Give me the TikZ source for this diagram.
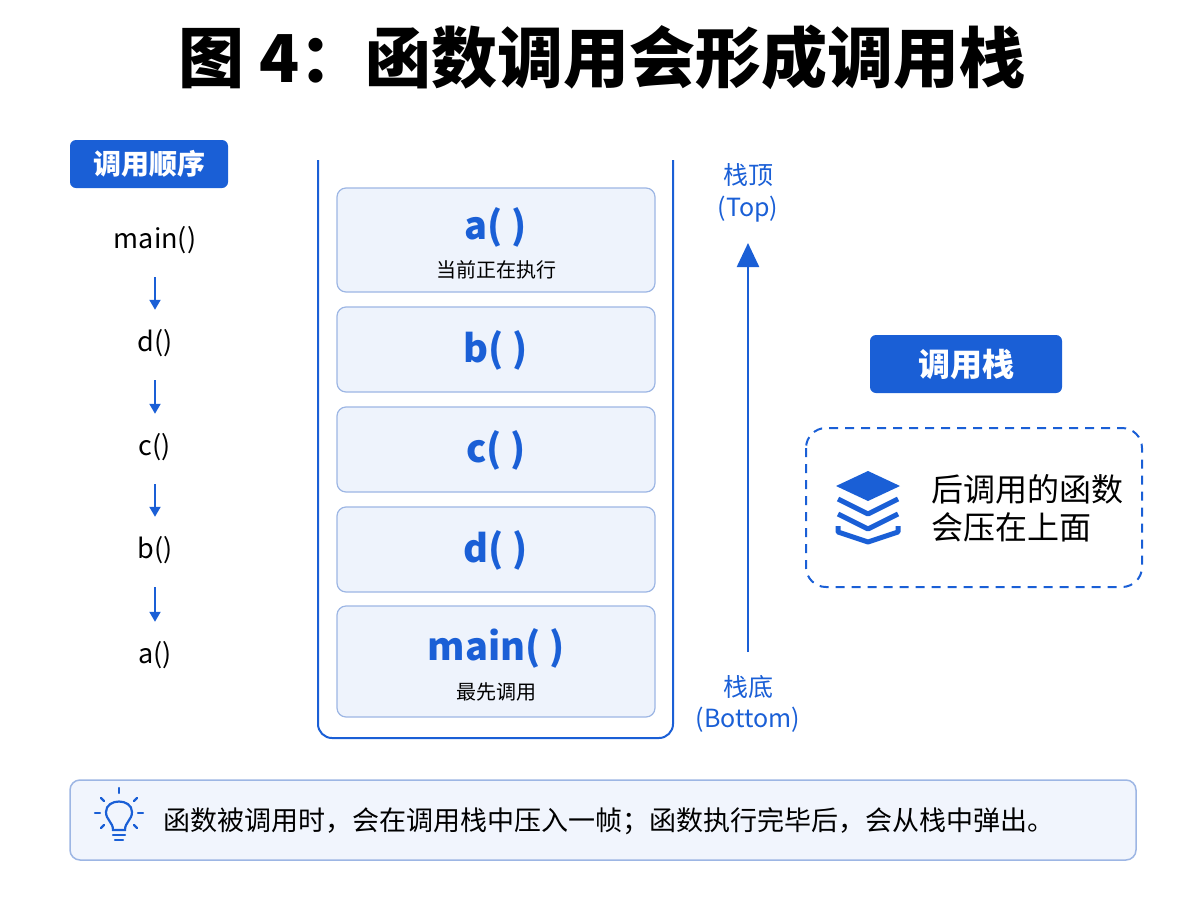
\documentclass[tikz,border=0pt]{standalone}
\usepackage{fontspec}
\setmainfont{Noto Sans CJK SC}
\usetikzlibrary{arrows.meta}
\definecolor{blu}{HTML}{1A5FD6}
\definecolor{frm}{HTML}{EEF3FC}
\definecolor{frs}{HTML}{9DB6E4}
\definecolor{tip}{HTML}{F1F5FD}
\begin{document}
\begin{tikzpicture}[x=1pt,y=-1pt,
  fs/.style={font=\fontsize{#1}{#1}\selectfont},
  fsb/.style={font=\fontsize{#1}{#1}\selectfont\bfseries},
  badge/.style={fill=blu,rounded corners=6,text=white,font=\fontsize{28}{28}\selectfont\bfseries,inner sep=0},
  frame/.style={draw=frs,fill=frm,line width=1.2,rounded corners=9},
  lst/.style={font=\fontsize{27}{27}\selectfont},
  darr/.style={blu,line width=2,-{Triangle[length=10,width=11]}}]
\useasboundingbox (0,0) rectangle (1200,900);
\node[fsb=66] (title) at (602,57) {图 4：函数调用会形成调用栈};
% left
\node[badge,minimum width=158,minimum height=48] (b1) at (149,164) {调用顺序};
\node[lst] (l1) at (155,240) {main()};
\node[lst] (l2) at (155,343) {d()};
\node[lst] (l3) at (155,447) {c()};
\node[lst] (l4) at (155,550) {b()};
\node[lst] (l5) at (155,655) {a()};
\foreach \a/\b in {l1/l2,l2/l3,l3/l4,l4/l5}
  \draw[darr] ([yshift=-20]\a.south) -- ([yshift=16]\b.north);
% stack
\coordinate (cl) at (318,160); \coordinate (cr) at (673,160);
\draw[blu,line width=2,rounded corners=14] (cl) -- (318,738) -- (673,738) -- (cr);
\node[frame,minimum width=318,minimum height=104] (fa) at (496,240) {};
\node[frame,minimum width=318,minimum height=85] (fb) at (496,349.5) {};
\node[frame,minimum width=318,minimum height=85] (fc) at (496,449.5) {};
\node[frame,minimum width=318,minimum height=85] (fd) at (496,549.5) {};
\node[frame,minimum width=318,minimum height=111] (fm) at (496,661.5) {};
\node[text=blu,fsb=38] (ta) at (496,227) {a( )};
\node[fs=20] (sa) at (496,270) {当前正在执行};
\node[text=blu,fsb=38] (tb) at (496,350) {b( )};
\node[text=blu,fsb=38] (tc) at (496,450) {c( )};
\node[text=blu,fsb=38] (td) at (496,550) {d( )};
\node[text=blu,fsb=38] (tm) at (496,648) {main( )};
\node[fs=20] (sm) at (496,692) {最先调用};
% arrow
\node[text=blu,fs=25] (top1) at (748,175) {栈顶};
\node[text=blu,fs=25] (top2) at (748,209) {(Top)};
\node[text=blu,fs=25] (bot1) at (748,687) {栈底};
\node[text=blu,fs=25] (bot2) at (748,720) {(Bottom)};
\coordinate (ab) at (748,652); \coordinate (at) at (748,243);
\draw[blu,line width=2.5,-{Triangle[length=24,width=22]}] (ab) -- (at);
% right
\node[badge,minimum width=192,minimum height=58,font=\fontsize{32}{32}\selectfont\bfseries] (b2) at (966,364) {调用栈};
\draw[blu,line width=2,dash pattern=on 9 off 7,rounded corners=20] (806,428) rectangle (1142,587);
\begin{scope}[shift={(868,506)}]
 \fill[blu] (0,-35) -- (32,-20) -- (0,-5) -- (-32,-20) -- cycle;
 \draw[blu,line width=5,line join=round] (-30,-7) -- (0,8) -- (30,-7);
 \draw[blu,line width=5,line join=round] (-30,8) -- (0,23) -- (30,8);
 \draw[blu,line width=5,line join=round] (-30,20) -- (-30,26) -- (0,36) -- (30,26) -- (30,20);
\end{scope}
\node[fs=32,align=left] (rt) at (1027,508) {后调用的函数\\[6pt]会压在上面};
% tip
\draw[frs,fill=tip,line width=1.5,rounded corners=10] (70,780) rectangle (1136,860);
\begin{scope}[shift={(119,818)},blu,line width=2.2,line cap=round]
 \draw (-6,12) .. controls (-6,4) and (-13,2) .. (-13,-6) .. controls (-13,-20) and (13,-20) .. (13,-6) .. controls (13,2) and (6,4) .. (6,12) -- cycle;
 \draw (-6,17) -- (6,17); \draw (-4,22) -- (4,22);
 \draw (0,-30) -- (0,-25); \draw (-18,-20) -- (-15,-17); \draw (18,-20) -- (15,-17);
 \draw (-24,-5) -- (-19,-5); \draw (24,-5) -- (19,-5);
 \draw (-18,10) -- (-15,7); \draw (18,10) -- (15,7);
\end{scope}
\node[fs=27,anchor=west] (tt) at (160,821) {函数被调用时，会在调用栈中压入一帧；函数执行完毕后，会从栈中弹出。};
\end{tikzpicture}
\end{document}
